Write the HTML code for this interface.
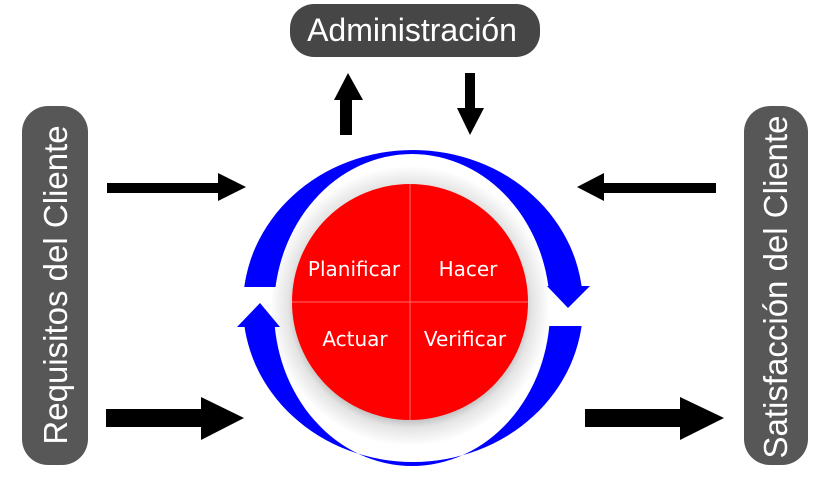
<!DOCTYPE html>
<html><head><meta charset="utf-8"><style>
html,body{margin:0;padding:0;background:#fff;}
svg{display:block;}
</style></head><body>
<svg width="830" height="489" viewBox="0 0 830 489" xmlns="http://www.w3.org/2000/svg">
<defs>
<radialGradient id="sh" cx="410" cy="306" r="140" gradientUnits="userSpaceOnUse">
<stop offset="0.8" stop-color="#bbb"/><stop offset="0.87" stop-color="#e4e4e4"/><stop offset="1" stop-color="#fff"/>
</radialGradient>
<clipPath id="ctop"><rect x="0" y="0" width="830" height="287"/></clipPath>
<clipPath id="cbot"><rect x="0" y="326" width="830" height="200"/></clipPath>
</defs>
<circle cx="412" cy="306" r="140" fill="url(#sh)"/>
<g fill="#0000ff" fill-rule="evenodd">
<path clip-path="url(#ctop)" d="M243,306 a170,156 0 1,0 340,0 a170,156 0 1,0 -340,0 Z M274,310 a138,156 0 1,0 276,0 a138,156 0 1,0 -276,0 Z"/>
<path clip-path="url(#cbot)" d="M243,306 a170,156 0 1,0 340,0 a170,156 0 1,0 -340,0 Z M274,310 a138,156 0 1,0 276,0 a138,156 0 1,0 -276,0 Z"/>
</g>
<polygon fill="#0000ff" points="547,286 590,286 568,308"/>
<polygon fill="#0000ff" points="237,327 280,327 260,303"/>
<circle cx="410" cy="302" r="118" fill="#ff0000"/>
<line x1="410" y1="184" x2="410" y2="420" stroke="#ff6a6a" stroke-width="1"/>
<line x1="292" y1="302" x2="528" y2="302" stroke="#ff6a6a" stroke-width="1"/>
<g font-family="'DejaVu Sans', Verdana, sans-serif" font-size="20" fill="#fff" text-anchor="middle">
<text x="354" y="276">Planificar</text>
<text x="468" y="276">Hacer</text>
<text x="355" y="346">Actuar</text>
<text x="465" y="346">Verificar</text>
</g>
<rect x="290" y="4" width="250" height="53" rx="24" fill="#464646"/>
<text x="412" y="41" font-family="'Liberation Sans', Arial, sans-serif" font-size="32" fill="#fff" text-anchor="middle">Administración</text>
<rect x="22" y="106" width="66" height="359" rx="26" fill="#575757"/>
<text transform="translate(67,285) rotate(-90)" font-family="'Liberation Sans', Arial, sans-serif" font-size="33" fill="#fff" text-anchor="middle">Requisitos del Cliente</text>
<rect x="744" y="106" width="64" height="359" rx="26" fill="#575757"/>
<text transform="translate(787,287) rotate(-90)" font-family="'Liberation Sans', Arial, sans-serif" font-size="33" fill="#fff" text-anchor="middle">Satisfacción del Cliente</text>
<g fill="#000">
<polygon points="340,135 352,135 352,100 363,100 348,73 334,100 340,100"/>
<polygon points="465,73 475,73 475,108 484,108 470,135 457,108 465,108"/>
<polygon points="107,183 218,183 218,173 246,187 218,201 218,193 107,193"/>
<polygon points="716,183 604,183 604,173 577,187 604,201 604,193 716,193"/>
<polygon points="106,409 201,409 201,397 244,418 201,440 201,427 106,427"/>
<polygon points="585,409 680,409 680,397 724,418 680,440 680,427 585,427"/>
</g>
</svg>
</body></html>
